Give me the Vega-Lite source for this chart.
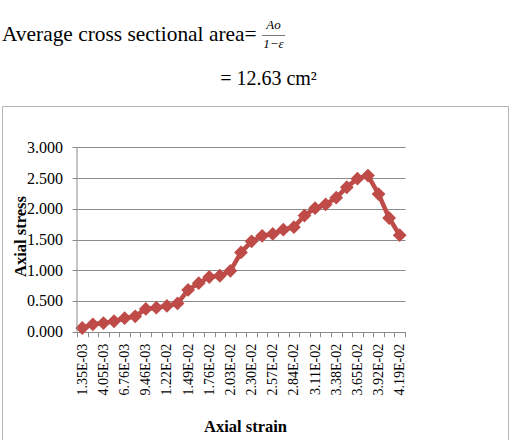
{
  "$schema": "https://vega.github.io/schema/vega-lite/v6.json",
  "width": 506,
  "height": 334,
  "autosize": {"type": "none"},
  "padding": {"left": 2, "right": 2, "top": 106, "bottom": 0},
  "background": "white",
  "view": {"stroke": "#b5b5b5", "strokeWidth": 1},
  "config": {
    "view": {"stroke": "#b5b5b5", "strokeWidth": 1},
    "font": "Liberation Serif"
  },
  "title": {
    "text": "Average cross sectional area=",
    "anchor": "start",
    "frame": "group",
    "orient": "top",
    "font": "Liberation Serif",
    "fontSize": 21.4,
    "fontWeight": "normal",
    "color": "#000000",
    "baseline": "alphabetic",
    "offset": 0,
    "dy": 44
  },
  "data": {
    "values": [
      {"strain": "1.35E-03", "stress": 0.06},
      {"strain": "2.70E-03", "stress": 0.12},
      {"strain": "4.05E-03", "stress": 0.14},
      {"strain": "5.41E-03", "stress": 0.17},
      {"strain": "6.76E-03", "stress": 0.22},
      {"strain": "8.11E-03", "stress": 0.25},
      {"strain": "9.46E-03", "stress": 0.37},
      {"strain": "1.08E-02", "stress": 0.39},
      {"strain": "1.22E-02", "stress": 0.42},
      {"strain": "1.35E-02", "stress": 0.46},
      {"strain": "1.49E-02", "stress": 0.68},
      {"strain": "1.62E-02", "stress": 0.79},
      {"strain": "1.76E-02", "stress": 0.89},
      {"strain": "1.89E-02", "stress": 0.91},
      {"strain": "2.03E-02", "stress": 0.99},
      {"strain": "2.16E-02", "stress": 1.29},
      {"strain": "2.30E-02", "stress": 1.47},
      {"strain": "2.43E-02", "stress": 1.56},
      {"strain": "2.57E-02", "stress": 1.59},
      {"strain": "2.70E-02", "stress": 1.66},
      {"strain": "2.84E-02", "stress": 1.70},
      {"strain": "2.97E-02", "stress": 1.89},
      {"strain": "3.11E-02", "stress": 2.01},
      {"strain": "3.24E-02", "stress": 2.07},
      {"strain": "3.38E-02", "stress": 2.18},
      {"strain": "3.51E-02", "stress": 2.35},
      {"strain": "3.65E-02", "stress": 2.49},
      {"strain": "3.79E-02", "stress": 2.54},
      {"strain": "3.92E-02", "stress": 2.24},
      {"strain": "4.06E-02", "stress": 1.85},
      {"strain": "4.19E-02", "stress": 1.57}
    ]
  },
  "layer": [
    {
      "mark": {
        "type": "line",
        "color": "#be4b48",
        "strokeWidth": 4.5,
        "point": {"shape": "diamond", "size": 190, "filled": true, "color": "#be4b48", "opacity": 1}
      },
      "encoding": {
        "x": {
          "field": "strain",
          "type": "ordinal",
          "scale": {
            "type": "band",
            "domain": ["1.35E-03", "2.70E-03", "4.05E-03", "5.41E-03", "6.76E-03", "8.11E-03", "9.46E-03", "1.08E-02", "1.22E-02", "1.35E-02", "1.49E-02", "1.62E-02", "1.76E-02", "1.89E-02", "2.03E-02", "2.16E-02", "2.30E-02", "2.43E-02", "2.57E-02", "2.70E-02", "2.84E-02", "2.97E-02", "3.11E-02", "3.24E-02", "3.38E-02", "3.51E-02", "3.65E-02", "3.79E-02", "3.92E-02", "4.06E-02", "4.19E-02"],
            "range": [75, 403],
            "paddingInner": 0,
            "paddingOuter": 0
          },
          "axis": {
            "orient": "bottom",
            "offset": -108.3,
            "zindex": 0,
            "domain": false,
            "grid": false,
            "ticks": true,
            "tickBand": "extent",
            "tickSize": 5,
            "tickColor": "#8a8a8a",
            "tickWidth": 1,
            "labelAngle": 270,
            "labelAlign": "right",
            "labelBaseline": "middle",
            "labelFont": "Liberation Serif",
            "labelFontSize": 14,
            "labelColor": "#000000",
            "labelPadding": 6.6,
            "labelOverlap": "parity",
            "title": "Axial strain",
            "titleFont": "Liberation Serif",
            "titleFontSize": 16.5,
            "titleFontWeight": "bold",
            "titleColor": "#000000",
            "titleX": 243,
            "titleY": 100,
            "titleAlign": "center",
            "titleBaseline": "alphabetic",
            "titleAngle": 0
          }
        },
        "y": {
          "field": "stress",
          "type": "quantitative",
          "scale": {"domain": [-1.762, 3.672], "nice": false, "zero": false},
          "axis": {
            "orient": "left",
            "offset": -70,
            "zindex": 0,
            "domain": false,
            "grid": false,
            "values": [0, 0.5, 1, 1.5, 2, 2.5, 3],
            "format": ".3f",
            "tickSize": -333,
            "tickColor": "#8a8a8a",
            "tickWidth": 1,
            "labelPadding": 342.5,
            "labelFont": "Liberation Serif",
            "labelFontSize": 16,
            "labelColor": "#000000",
            "title": "Axial stress",
            "titleFont": "Liberation Serif",
            "titleFontSize": 16.5,
            "titleFontWeight": "bold",
            "titleColor": "#000000",
            "titleX": -52,
            "titleY": 130,
            "titleAngle": 270,
            "titleAlign": "center",
            "titleBaseline": "middle"
          }
        },
        "order": {"value": null}
      }
    },
    {
      "data": {"values": [{}]},
      "mark": {"type": "rule", "color": "#8a8a8a", "strokeWidth": 1},
      "encoding": {
        "x": {
          "datum": "1.35E-03",
          "type": "ordinal",
          "bandPosition": 0,
          "axis": {
            "orient": "top",
            "domain": false,
            "ticks": false,
            "labels": false,
            "grid": false,
            "title": ["Ao", "——", "1−ε"],
            "titleFont": "Liberation Serif",
            "titleFontSize": 13,
            "titleFontStyle": "italic",
            "titleFontWeight": "normal",
            "titleLineHeight": 9.5,
            "titleColor": "#000000",
            "titleX": 271,
            "titleY": -78,
            "titleAlign": "center",
            "titleBaseline": "alphabetic",
            "titleAngle": 0
          }
        },
        "y": {
          "datum": 0,
          "type": "quantitative",
          "axis": {
            "orient": "right",
            "domain": false,
            "ticks": false,
            "labels": false,
            "grid": false,
            "title": "= 12.63 cm²",
            "titleFont": "Liberation Serif",
            "titleFontSize": 20,
            "titleFontWeight": "normal",
            "titleColor": "#000000",
            "titleX": -240,
            "titleY": -21.7,
            "titleAlign": "center",
            "titleBaseline": "alphabetic",
            "titleAngle": 0
          }
        },
        "y2": {"datum": 3}
      }
    }
  ],
  "resolve": {"axis": {"x": "independent", "y": "independent"}}
}
